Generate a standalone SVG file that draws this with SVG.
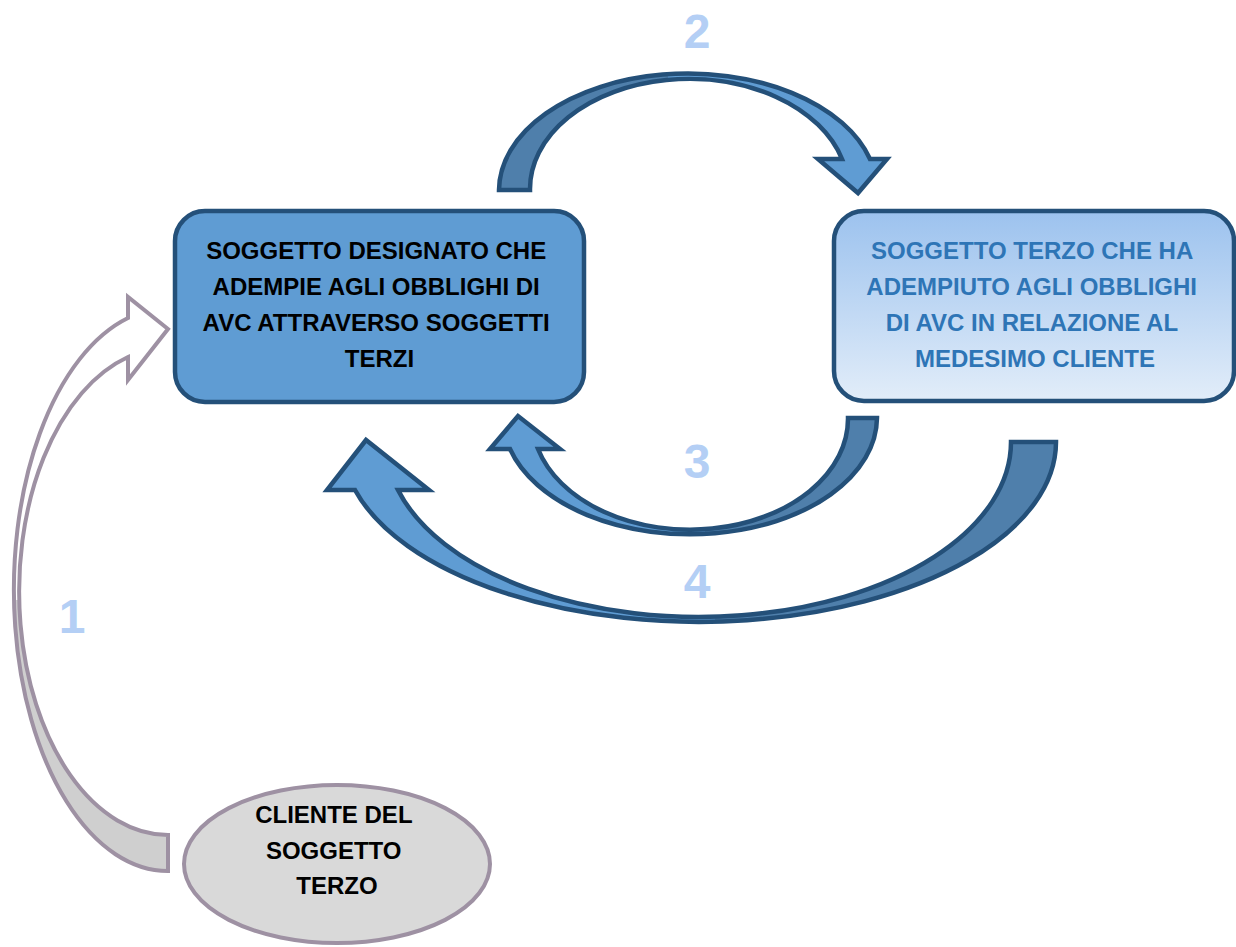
<svg xmlns="http://www.w3.org/2000/svg" width="1236" height="947" viewBox="0 0 1236 947">
  <defs>
    <linearGradient id="g2" x1="0" y1="0" x2="0" y2="1">
      <stop offset="0" stop-color="#9cc2ee"/>
      <stop offset="1" stop-color="#e2edf9"/>
    </linearGradient>
    <style>
      .txt { font-family: "Liberation Sans", Arial, sans-serif; font-weight: bold; font-size: 24px; text-anchor: middle; }
      .num { font-family: "Liberation Sans", Arial, sans-serif; font-weight: bold; font-size: 48px; text-anchor: middle; fill: #b4cff5; }
      .bandFill { fill: #5f9cd3; stroke: none; }
      .backFill { fill: #4f7fab; stroke: none; }
      .bandLine { fill: none; stroke: #245079; stroke-width: 4.5; stroke-linejoin: miter; }
      .g1Line { fill: none; stroke: #9e91a3; stroke-width: 4; stroke-linejoin: miter; }
    </style>
  </defs>
  <rect width="1236" height="947" fill="#ffffff"/>

  <g id="connectors">
    <g id="arrow1">
      <path d="M168,871 A154,281.3 0 0 1 128,318 L128,297 L168,329 L128,380 L128,357 A149,243.5 0 0 0 168,835 Z" fill="#ffffff"/>
      <path d="M168,871 A154,281.3 0 0 1 14.1,600 L19.1,600 A149,243.5 0 0 0 168,835 Z" fill="#cfcfcf"/>
      <path class="g1Line" d="M168,871 A154,281.3 0 0 1 128,318 L128,297 L168,329 L128,380 L128,357 A149,243.5 0 0 0 168,835 Z"/>
    </g>
    <g id="arrow2">
      <path class="bandFill" d="M499,190 A189,117 0 0 1 870,159 L887,159 L858,193 L818,159 L842,159 A159,110 0 0 0 530,190 Z"/>
      <path class="backFill" d="M499,190 A189,117 0 0 1 668,73.7 L668,81 A159,110 0 0 0 530,190 Z"/>
      <path class="bandLine" d="M499,190 A189,117 0 0 1 870,159 L887,159 L858,193 L818,159 L842,159 A159,110 0 0 0 530,190 Z"/>
    </g>
    <g id="arrow3">
      <path class="bandFill" d="M848,418 L877,418 A187,117 0 0 1 510,449 L490,449 L518,416 L560,449 L538,449 A158,111 0 0 0 848,418 Z"/>
      <path class="backFill" d="M877,418 A187,117 0 0 1 705,534.6 L705,528.5 A158,111 0 0 0 848,418 Z"/>
      <path class="bandLine" d="M848,418 L877,418 A187,117 0 0 1 510,449 L490,449 L518,416 L560,449 L538,449 A158,111 0 0 0 848,418 Z"/>
    </g>
    <g id="arrow4">
      <path class="bandFill" d="M1011,442 L1056,442 A357,180 0 0 1 355,490 L327,490 L366,440 L429,490 L398,490 A312.5,175 0 0 0 1011,442 Z"/>
      <path class="backFill" d="M1056,442 A357,180 0 0 1 715,621.8 L715,616.8 A312.5,175 0 0 0 1011,442 Z"/>
      <path class="bandLine" d="M1011,442 L1056,442 A357,180 0 0 1 355,490 L327,490 L366,440 L429,490 L398,490 A312.5,175 0 0 0 1011,442 Z"/>
    </g>
    <g id="labels">
      <text class="num" x="72" y="633">1</text>
      <text class="num" x="697" y="48">2</text>
      <text class="num" x="697" y="478">3</text>
      <text class="num" x="697" y="598">4</text>
    </g>
  </g>

  <g id="node-designato">
    <rect x="175" y="211" width="409" height="191" rx="30" ry="30" fill="#5f9cd3" stroke="#245079" stroke-width="4.5"/>
    <text class="txt" fill="#000000">
      <tspan x="379.5" y="259">SOGGETTO DESIGNATO CHE</tspan>
      <tspan x="379.5" y="295">ADEMPIE AGLI OBBLIGHI DI</tspan>
      <tspan x="379.5" y="331">AVC ATTRAVERSO SOGGETTI</tspan>
      <tspan x="379.5" y="367">TERZI</tspan>
    </text>
  </g>

  <g id="node-terzo">
    <rect x="834" y="211" width="400" height="190" rx="30" ry="30" fill="url(#g2)" stroke="#245079" stroke-width="4.5"/>
    <text class="txt" fill="#2e75b6">
      <tspan x="1035" y="259">SOGGETTO TERZO CHE HA</tspan>
      <tspan x="1035" y="295">ADEMPIUTO AGLI OBBLIGHI</tspan>
      <tspan x="1035" y="331">DI AVC IN RELAZIONE AL</tspan>
      <tspan x="1035" y="367">MEDESIMO CLIENTE</tspan>
    </text>
  </g>

  <g id="node-cliente">
    <ellipse cx="337" cy="864" rx="153" ry="79" fill="#d9d9d9" stroke="#9e91a3" stroke-width="4"/>
    <text class="txt" fill="#000000">
      <tspan x="337" y="823">CLIENTE DEL</tspan>
      <tspan x="337" y="859">SOGGETTO</tspan>
      <tspan x="337" y="894">TERZO</tspan>
    </text>
  </g>
</svg>
